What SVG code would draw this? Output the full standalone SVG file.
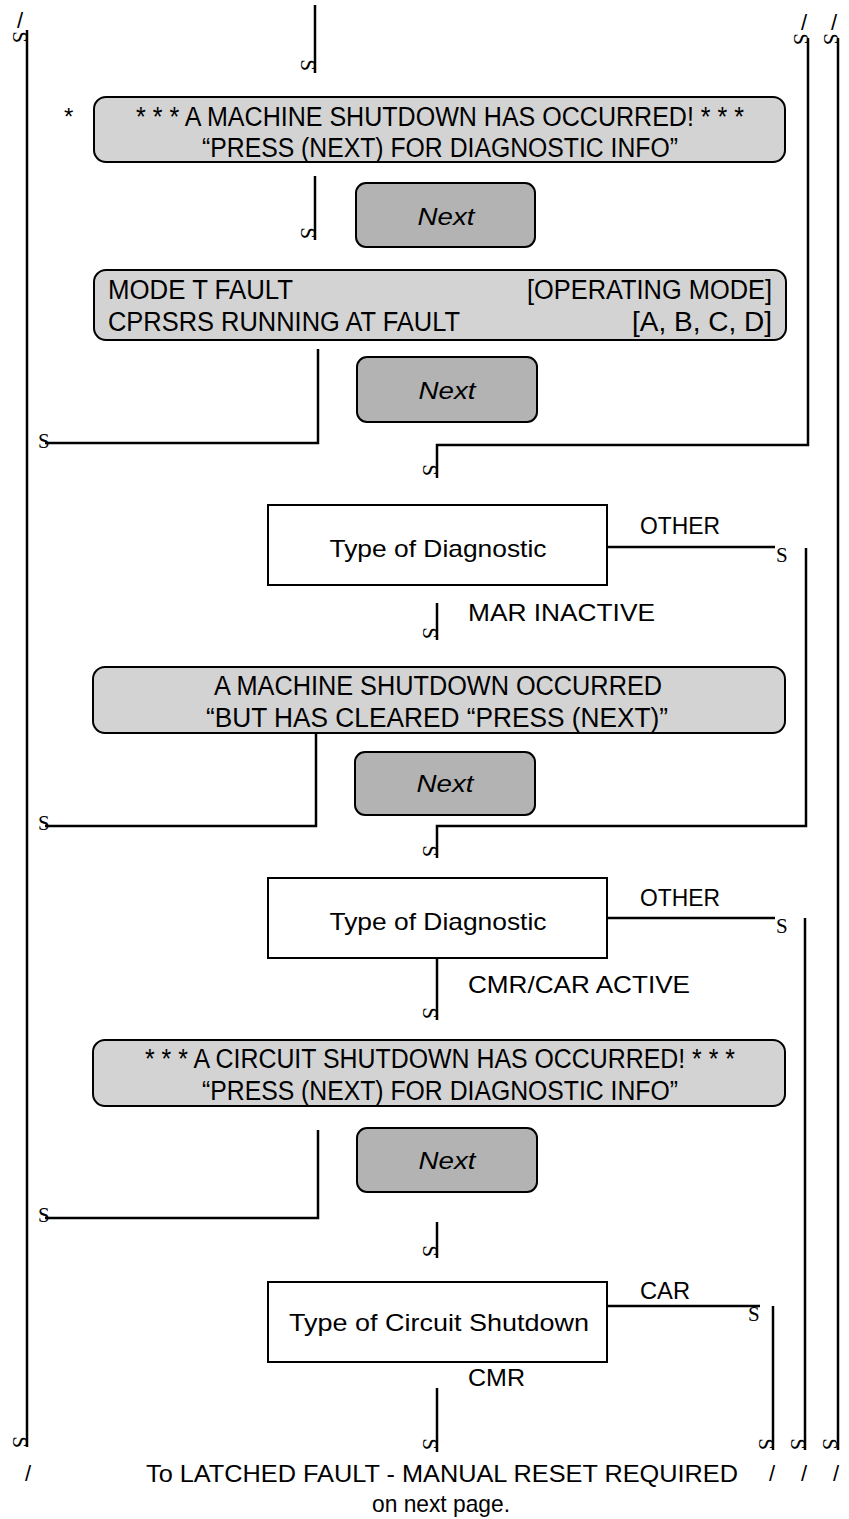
<svg xmlns="http://www.w3.org/2000/svg" width="849" height="1519" viewBox="0 0 849 1519">
<style>
.ln{fill:none;stroke:#000;stroke-width:2.5}
.bx{fill:#d3d3d3;stroke:#000;stroke-width:2}
.nx{fill:#b3b3b3;stroke:#000;stroke-width:2}
.wb{fill:#fff;stroke:#000;stroke-width:2}
.t{font-family:"Liberation Sans",Arial,sans-serif;font-size:24px;fill:#000}
.g{font-family:"Liberation Sans",Arial,sans-serif;font-size:27px;fill:#000}
.c{text-anchor:middle}
.e{text-anchor:end}
.i{font-style:italic}
.s{font-family:"Liberation Serif","DejaVu Serif",serif;font-size:21px;fill:#000}
.sr{font-family:"Liberation Serif","DejaVu Serif",serif;font-size:21px;fill:#000;text-anchor:middle;dominant-baseline:central}
.sl{font-family:"Liberation Sans",sans-serif;font-size:22px;fill:#000;text-anchor:middle}
</style>
<rect width="849" height="1519" fill="#fff"/>
<g id="connectors">
<path class="ln" d="M27 30V1447"/>
<path class="ln" d="M315 5V73"/>
<path class="ln" d="M315 176V240"/>
<path class="ln" d="M318 349V443H45"/>
<path class="ln" d="M808 38V445H437V478"/>
<path class="ln" d="M838 38V1450"/>
<path class="ln" d="M607 547H775"/>
<path class="ln" d="M806 548V826H437V858"/>
<path class="ln" d="M437 603V640"/>
<path class="ln" d="M316 733V826H45"/>
<path class="ln" d="M607 918H775"/>
<path class="ln" d="M805 918V1450"/>
<path class="ln" d="M437 958V1020"/>
<path class="ln" d="M318 1130V1218H45"/>
<path class="ln" d="M437 1222V1258"/>
<path class="ln" d="M607 1306H760"/>
<path class="ln" d="M773 1306V1450"/>
<path class="ln" d="M437 1388V1452"/>
</g>
<g id="markers">
<text class="sr" transform="translate(20,37) rotate(90)">S</text>
<text class="sl" x="20" y="28">/</text>
<text class="sr" transform="translate(801,39) rotate(90)">S</text>
<text class="sl" x="804" y="30">/</text>
<text class="sr" transform="translate(831,39) rotate(90)">S</text>
<text class="sl" x="834" y="30">/</text>
<text class="sr" transform="translate(308,65) rotate(90)">S</text>
<text class="sr" transform="translate(308,233) rotate(90)">S</text>
<text class="sr" transform="translate(430,470) rotate(90)">S</text>
<text class="sr" transform="translate(430,633) rotate(90)">S</text>
<text class="sr" transform="translate(430,851) rotate(90)">S</text>
<text class="sr" transform="translate(430,1013) rotate(90)">S</text>
<text class="sr" transform="translate(430,1251) rotate(90)">S</text>
<text class="sr" transform="translate(430,1444) rotate(90)">S</text>
<text class="s" x="38" y="448">S</text>
<text class="s" x="38" y="830">S</text>
<text class="s" x="38" y="1222">S</text>
<text class="s" x="776" y="562">S</text>
<text class="s" x="776" y="933">S</text>
<text class="s" x="748" y="1321">S</text>
<text class="sr" transform="translate(20,1442) rotate(90)">S</text>
<text class="sl" x="28" y="1481">/</text>
<text class="sr" transform="translate(766,1444) rotate(90)">S</text>
<text class="sl" x="772" y="1481">/</text>
<text class="sr" transform="translate(798,1444) rotate(90)">S</text>
<text class="sl" x="804" y="1481">/</text>
<text class="sr" transform="translate(830,1444) rotate(90)">S</text>
<text class="sl" x="836" y="1481">/</text>
</g>
<g id="star"><text class="t" x="64" y="125">*</text></g>
<g id="msg1">
<rect class="bx" x="94" y="97" width="691" height="65" rx="12"/>
<text class="g c" x="440" y="126" textLength="608" lengthAdjust="spacingAndGlyphs">* * * A MACHINE SHUTDOWN HAS OCCURRED! * * *</text>
<text class="g c" x="440" y="157" textLength="476" lengthAdjust="spacingAndGlyphs">“PRESS (NEXT) FOR DIAGNOSTIC INFO”</text>
</g>
<g id="next1">
<rect class="nx" x="356" y="183" width="179" height="64" rx="10"/>
<text class="t c i" x="446" y="225" textLength="57" lengthAdjust="spacingAndGlyphs">Next</text>
</g>
<g id="msg2">
<rect class="bx" x="94" y="270" width="692" height="70" rx="12"/>
<text class="g" x="108" y="299" textLength="185" lengthAdjust="spacingAndGlyphs">MODE T FAULT</text>
<text class="g e" x="772" y="299" textLength="245" lengthAdjust="spacingAndGlyphs">[OPERATING MODE]</text>
<text class="g" x="108" y="331" textLength="352" lengthAdjust="spacingAndGlyphs">CPRSRS RUNNING AT FAULT</text>
<text class="g e" x="772" y="331" textLength="140" lengthAdjust="spacingAndGlyphs">[A, B, C, D]</text>
</g>
<g id="next2">
<rect class="nx" x="357" y="357" width="180" height="65" rx="10"/>
<text class="t c i" x="447" y="399" textLength="57" lengthAdjust="spacingAndGlyphs">Next</text>
</g>
<g id="diag1">
<rect class="wb" x="268" y="505" width="339" height="80"/>
<text class="t c" x="438" y="557" textLength="217" lengthAdjust="spacingAndGlyphs">Type of Diagnostic</text>
</g>
<text class="t" x="640" y="534" textLength="80" lengthAdjust="spacingAndGlyphs">OTHER</text>
<text class="t" x="468" y="621" textLength="187" lengthAdjust="spacingAndGlyphs">MAR INACTIVE</text>
<g id="msg3">
<rect class="bx" x="93" y="667" width="692" height="66" rx="12"/>
<text class="g c" x="438" y="695" textLength="448" lengthAdjust="spacingAndGlyphs">A MACHINE SHUTDOWN OCCURRED</text>
<text class="g c" x="437" y="727" textLength="462" lengthAdjust="spacingAndGlyphs">“BUT HAS CLEARED “PRESS (NEXT)”</text>
</g>
<g id="next3">
<rect class="nx" x="355" y="752" width="180" height="63" rx="10"/>
<text class="t c i" x="445" y="792" textLength="57" lengthAdjust="spacingAndGlyphs">Next</text>
</g>
<g id="diag2">
<rect class="wb" x="268" y="878" width="339" height="80"/>
<text class="t c" x="438" y="930" textLength="217" lengthAdjust="spacingAndGlyphs">Type of Diagnostic</text>
</g>
<text class="t" x="640" y="906" textLength="80" lengthAdjust="spacingAndGlyphs">OTHER</text>
<text class="t" x="468" y="993" textLength="222" lengthAdjust="spacingAndGlyphs">CMR/CAR ACTIVE</text>
<g id="msg4">
<rect class="bx" x="93" y="1040" width="692" height="66" rx="12"/>
<text class="g c" x="440" y="1068" textLength="590" lengthAdjust="spacingAndGlyphs">* * * A CIRCUIT SHUTDOWN HAS OCCURRED! * * *</text>
<text class="g c" x="440" y="1100" textLength="476" lengthAdjust="spacingAndGlyphs">“PRESS (NEXT) FOR DIAGNOSTIC INFO”</text>
</g>
<g id="next4">
<rect class="nx" x="357" y="1128" width="180" height="64" rx="10"/>
<text class="t c i" x="447" y="1169" textLength="57" lengthAdjust="spacingAndGlyphs">Next</text>
</g>
<g id="circ">
<rect class="wb" x="268" y="1282" width="339" height="80"/>
<text class="t c" x="439" y="1331" textLength="300" lengthAdjust="spacingAndGlyphs">Type of Circuit Shutdown</text>
</g>
<text class="t" x="640" y="1299" textLength="50" lengthAdjust="spacingAndGlyphs">CAR</text>
<text class="t" x="468" y="1386" textLength="57" lengthAdjust="spacingAndGlyphs">CMR</text>
<g id="footer">
<text class="t c" x="442" y="1482" textLength="592" lengthAdjust="spacingAndGlyphs">To LATCHED FAULT - MANUAL RESET REQUIRED</text>
<text class="t c" x="441" y="1512" textLength="138" lengthAdjust="spacingAndGlyphs">on next page.</text>
</g>
</svg>
